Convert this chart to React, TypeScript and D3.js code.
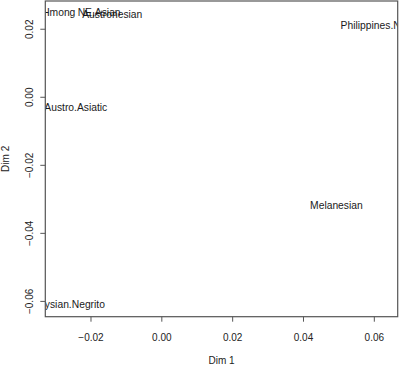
import { useEffect, useRef } from "react";
import * as d3 from "d3";

const LABELS = [
  "Hmong",
  "NE.Asian",
  "Austronesian",
  "Austro.Asiatic",
  "Philippines.Negrito",
  "Melanesian",
  "Malaysian.Negrito",
];
const DIM1 = [-0.0291, -0.0177, -0.014, -0.0243, 0.0626, 0.0493, -0.0277];
const DIM2 = [0.0249, 0.0249, 0.0244, -0.0029, 0.021, -0.0318, -0.0608];

const X_TICKS = [-0.02, 0, 0.02, 0.04, 0.06];
const Y_TICKS = [-0.06, -0.04, -0.02, 0, 0.02];

const W = 400;
const H = 365;
const FONT = "'Liberation Sans', Arial, Helvetica, sans-serif";

export default function App() {
  const ref = useRef<SVGSVGElement | null>(null);

  useEffect(() => {
    if (!ref.current) return;
    const svg = d3.select(ref.current);
    svg.selectAll("*").remove();

    const left = 45.3;
    const right = 397.7;
    const top = 1;
    const bottom = 316.7;

    const x = d3.scaleLinear().domain([-0.0329, 0.0666]).range([left, right]);
    const y = d3.scaleLinear().domain([-0.0645, 0.0283]).range([bottom, top]);

    const fmt = d3.format(".2f");

    svg
      .append("defs")
      .append("clipPath")
      .attr("id", "plotclip")
      .append("rect")
      .attr("x", left)
      .attr("y", top)
      .attr("width", right - left)
      .attr("height", bottom - top);

    // labels at points, clipped to the plot region like R does
    svg
      .append("g")
      .attr("clip-path", "url(#plotclip)")
      .selectAll("text")
      .data(LABELS)
      .enter()
      .append("text")
      .attr("x", (_, i) => x(DIM1[i]))
      .attr("y", (_, i) => y(DIM2[i]))
      .attr("dy", "0.35em")
      .attr("text-anchor", "middle")
      .attr("font-family", FONT)
      .attr("font-size", "10.3px")
      .attr("fill", "#1a1a1a")
      .text((d) => d);

    // box
    svg
      .append("rect")
      .attr("x", left)
      .attr("y", top)
      .attr("width", right - left)
      .attr("height", bottom - top)
      .attr("fill", "none")
      .attr("stroke", "#555")
      .attr("stroke-width", 1.2);

    // x axis
    const gx = svg.append("g");
    gx.selectAll("line")
      .data(X_TICKS)
      .enter()
      .append("line")
      .attr("x1", (d) => x(d))
      .attr("x2", (d) => x(d))
      .attr("y1", bottom)
      .attr("y2", bottom + 5)
      .attr("stroke", "#555");
    gx.selectAll("text")
      .data(X_TICKS)
      .enter()
      .append("text")
      .attr("x", (d) => x(d))
      .attr("y", 341)
      .attr("text-anchor", "middle")
      .attr("font-family", FONT)
      .attr("font-size", "10px")
      .attr("fill", "#222")
      .text((d) => fmt(d));

    // y axis
    const gy = svg.append("g");
    gy.selectAll("line")
      .data(Y_TICKS)
      .enter()
      .append("line")
      .attr("x1", left - 5)
      .attr("x2", left)
      .attr("y1", (d) => y(d))
      .attr("y2", (d) => y(d))
      .attr("stroke", "#555");
    gy.selectAll("text")
      .data(Y_TICKS)
      .enter()
      .append("text")
      .attr("transform", (d) => `translate(32.5, ${y(d)}) rotate(-90)`)
      .attr("text-anchor", "middle")
      .attr("font-family", FONT)
      .attr("font-size", "10px")
      .attr("fill", "#222")
      .text((d) => fmt(d));

    svg
      .append("text")
      .attr("x", (left + right) / 2)
      .attr("y", 364)
      .attr("text-anchor", "middle")
      .attr("font-family", FONT)
      .attr("font-size", "10px")
      .attr("fill", "#222")
      .text("Dim 1");

    svg
      .append("text")
      .attr("transform", `translate(8.5, ${(top + bottom) / 2}) rotate(-90)`)
      .attr("text-anchor", "middle")
      .attr("font-family", FONT)
      .attr("font-size", "10px")
      .attr("fill", "#222")
      .text("Dim 2");
  }, []);

  return (
    <div style={{ position: "absolute", left: 0, top: 0, width: W, height: H, background: "#fff" }}>
      <svg ref={ref} width={W} height={H} />
    </div>
  );
}
